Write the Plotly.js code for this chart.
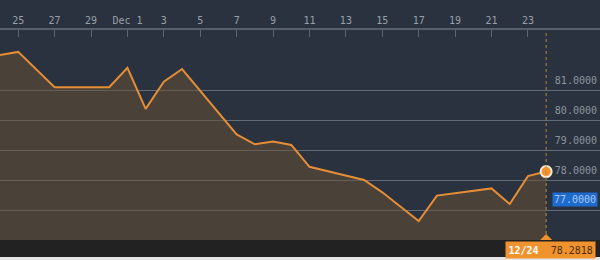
<!DOCTYPE html>
<html>
<head>
<meta charset="utf-8">
<script src="https://cdn.plot.ly/plotly-3.0.1.min.js"></script>
<style>
  html, body { margin: 0; padding: 0; background: #29323e; }
  #chart { width: 600px; height: 260px; }
</style>
</head>
<body>
<div id="chart"></div>
<script>
// ---- data ----
const dates = [
  '2015-11-24', '2015-11-25', '2015-11-27', '2015-11-30',
  '2015-12-01', '2015-12-02', '2015-12-03', '2015-12-04',
  '2015-12-07', '2015-12-08', '2015-12-09', '2015-12-10', '2015-12-11',
  '2015-12-14', '2015-12-15', '2015-12-16', '2015-12-17', '2015-12-18',
  '2015-12-21', '2015-12-22', '2015-12-23', '2015-12-24'
];
const values = [
  82.17, 82.27, 81.09, 81.09,
  81.74, 80.37, 81.28, 81.70,
  79.52, 79.19, 79.28, 79.17, 78.44,
  78.00, 77.59, 77.12, 76.63, 77.48,
  77.72, 77.20, 78.13, 78.2818
];
const xTickVals = [
  '2015-11-25', '2015-11-27', '2015-11-29', '2015-12-01', '2015-12-03',
  '2015-12-05', '2015-12-07', '2015-12-09', '2015-12-11', '2015-12-13',
  '2015-12-15', '2015-12-17', '2015-12-19', '2015-12-21', '2015-12-23'
];
const xTickText = ['25', '27', '29', 'Dec 1', '3', '5', '7', '9', '11', '13', '15', '17', '19', '21', '23'];
const yTickVals = [77, 78, 79, 80, 81];
const yTickText = ['77.0000', '78.0000', '79.0000', '80.0000', '81.0000'];
const highlightedTick = '77.0000';
const lastLabelDate = '12/24';
const lastLabelValue = '78.2818';

const lastDate = dates[dates.length - 1];
const lastValue = values[values.length - 1];
const hiIndex = yTickText.indexOf(highlightedTick);

const ORANGE = '#e58d36';
const MONO = '"DejaVu Sans Mono", "Liberation Mono", monospace';

const traces = [
  {
    x: dates, y: values, type: 'scatter', mode: 'lines',
    line: { color: ORANGE, width: 2 },
    fill: 'tozeroy', fillcolor: 'rgba(108,80,52,0.5)',
    hoverinfo: 'skip'
  },
  {
    x: [lastDate], y: [lastValue], type: 'scatter', mode: 'markers',
    marker: { color: '#f0922e', size: 11, line: { color: '#f6ead8', width: 2 } },
    hoverinfo: 'skip'
  }
];

const layout = {
  width: 600, height: 260,
  margin: { l: 0, r: 0, t: 30, b: 20, pad: 0 },
  paper_bgcolor: '#29323e',
  plot_bgcolor: '#29323e',
  showlegend: false,
  font: { family: MONO, size: 10, color: '#8d949d' },
  xaxis: {
    type: 'date',
    side: 'top',
    range: ['2015-11-24', '2015-12-26 23:00'],
    tickmode: 'array', tickvals: xTickVals, ticktext: xTickText,
    ticks: 'inside', ticklen: 7, tickwidth: 1, tickcolor: '#5c6570',
    showline: true, linecolor: '#56606b', linewidth: 2,
    showgrid: false, zeroline: false,
    tickfont: { family: MONO, size: 10, color: '#9aa0a8' }
  },
  yaxis: {
    side: 'right',
    range: [76, 83],
    tickmode: 'array', tickvals: yTickVals,
    ticktext: yTickText.map(t => (t === highlightedTick ? '' : t)),
    ticklabelposition: 'inside',
    ticklabelshift: -10,
    ticks: '',
    showgrid: true, gridcolor: '#626c78', gridwidth: 1,
    zeroline: false, showline: false,
    tickfont: { family: MONO, size: 10, color: '#8d949d' }
  },
  shapes: [
    // bottom dark band
    { type: 'rect', xref: 'paper', yref: 'paper', x0: 0, x1: 1, y0: 0, y1: -17 / 210,
      fillcolor: '#222222', line: { width: 0 }, layer: 'above' },
    { type: 'rect', xref: 'paper', yref: 'paper', x0: 0, x1: 1, y0: -17 / 210, y1: -20 / 210,
      fillcolor: '#e6e6e6', line: { width: 0 }, layer: 'above' },
    // vertical dotted cursor line
    { type: 'line', xref: 'x', yref: 'paper', x0: lastDate, x1: lastDate, y0: 0, y1: 1,
      line: { color: '#b98a3e', width: 1, dash: 'dot' }, layer: 'above' },
    // pointer triangle of the bottom label
    { type: 'path', xref: 'x', yref: 'paper', xsizemode: 'pixel', ysizemode: 'pixel',
      xanchor: lastDate, yanchor: 0,
      path: 'M -6 0 L 6 0 L 0 6 Z',
      fillcolor: '#f0922e', line: { width: 0 }, layer: 'above' }
  ],
  annotations: [
    {
      xref: 'paper', yref: 'y', x: 1, y: yTickVals[hiIndex], xanchor: 'right', yanchor: 'middle',
      xshift: -2, yshift: 11,
      text: highlightedTick, showarrow: false,
      font: { family: MONO, size: 10, color: '#a8c7ee' },
      bgcolor: '#1e6bd0', borderpad: 1
    },
    {
      xref: 'x', yref: 'paper', x: lastDate, y: 0, xanchor: 'center', yanchor: 'top',
      xshift: 4, yshift: -1,
      text: '<b>' + lastLabelDate + '</b>  <span style="color:#4a2e10">' + lastLabelValue + '</span>',
      showarrow: false,
      font: { family: MONO, size: 10, color: '#ffffff' },
      bgcolor: '#f0922e', borderpad: 2.5
    }
  ]
};

Plotly.newPlot('chart', traces, layout, { staticPlot: true, displayModeBar: false });
</script>
</body>
</html>
